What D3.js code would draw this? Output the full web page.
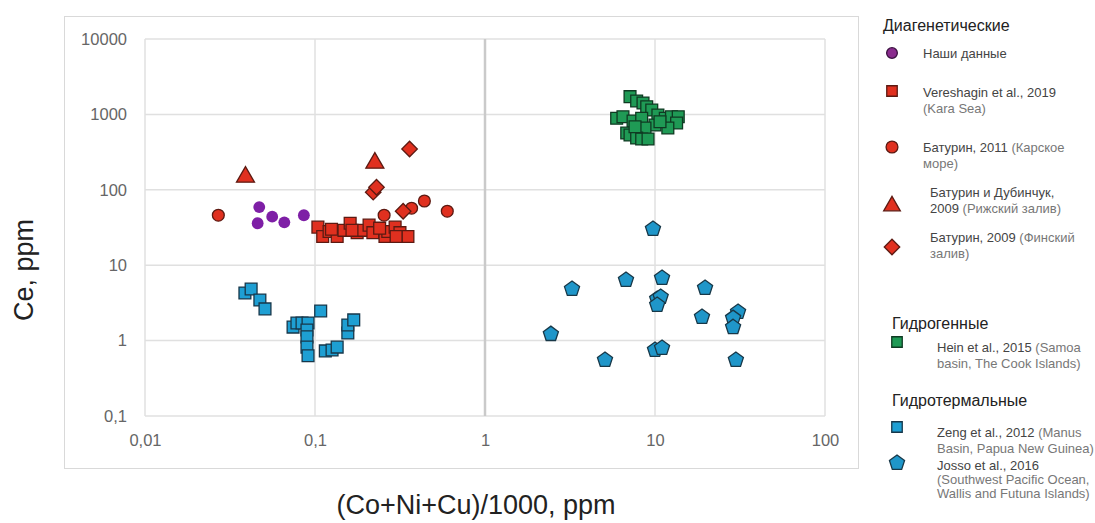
<!DOCTYPE html>
<html>
<head>
<meta charset="utf-8">
<script src="https://cdn.jsdelivr.net/npm/d3@7"></script>
<style>
  body { margin: 0; background: #fff; }
  svg { font-family: "Liberation Sans", Arial, sans-serif; }
</style>
</head>
<body>
<svg width="1095" height="523"></svg>
<script>
// tick labels
var xTicks = [0.01, 0.1, 1, 10, 100];
var yTicks = [0.1, 1, 10, 100, 1000, 10000];

// series, [ (Co+Ni+Cu)/1000, Ce ]
var nashiDannye = [[0.047, 59], [0.056, 44], [0.046, 36], [0.066, 37], [0.086, 46]];
var vereshagin2019 = [[0.104, 32], [0.111, 24], [0.121, 28], [0.135, 24], [0.148, 29], [0.161, 36],
  [0.177, 27], [0.189, 29], [0.208, 34], [0.219, 27], [0.258, 24], [0.268, 28], [0.296, 32],
  [0.316, 27], [0.352, 24], [0.125, 30], [0.165, 29], [0.24, 31], [0.30, 24]];
var baturin2011 = [[0.027, 46], [0.255, 46], [0.37, 57], [0.44, 71], [0.6, 52]];
var baturinDubinchuk2009 = [[0.039, 148], [0.225, 227]];
var baturin2009 = [[0.36, 348], [0.22, 93], [0.23, 108], [0.33, 52]];
var hein2015 = [[7.13, 1718], [7.8, 1506], [8.5, 1417], [8.94, 1265], [9.57, 1143], [5.95, 888],
  [6.48, 932], [7.43, 817], [8.35, 888], [10.4, 982], [11.5, 888], [12.5, 932], [13.7, 932],
  [13.4, 769], [11.9, 661], [10, 723], [8.73, 661], [6.82, 566], [7.13, 533], [7.8, 486],
  [8.35, 472], [9.1, 472], [7.63, 687], [10.7, 800]];
var zeng2012 = [[0.0387, 4.28], [0.0421, 4.83], [0.0474, 3.45], [0.0508, 2.63], [0.108, 2.47],
  [0.0743, 1.51], [0.0783, 1.71], [0.0839, 1.71], [0.091, 1.71], [0.0897, 1.38], [0.0897, 1.12],
  [0.0897, 0.82], [0.091, 0.63], [0.115, 0.73], [0.126, 0.75], [0.135, 0.82], [0.156, 1.26],
  [0.156, 1.61], [0.169, 1.88]];
var josso2016 = [[9.73, 30.2], [3.25, 4.83], [6.75, 6.36], [11.0, 6.77], [19.7, 4.99], [10.3, 3.56],
  [10.8, 3.79], [10.3, 2.97], [18.9, 2.06], [30.8, 2.4], [28.8, 1.99], [28.8, 1.51], [2.44, 1.22],
  [5.08, 0.553], [10, 0.75], [11.0, 0.8], [29.9, 0.553]];

var svg = d3.select("svg");

var x = d3.scaleLog().domain([0.01, 100]).range([145, 825]);
var y = d3.scaleLog().domain([0.1, 10000]).range([416, 39]);

function fmt(d) { return String(d).replace(".", ","); }

// frame around the chart
svg.append("rect")
    .attr("x", 64.5).attr("y", 16.5)
    .attr("width", 794).attr("height", 452)
    .attr("fill", "#fff")
    .attr("stroke", "#d9d9d9");

// grid
var grid = svg.append("g").attr("class", "grid");
grid.selectAll("line.h")
  .data(yTicks)
  .enter().append("line")
    .attr("x1", x(0.01)).attr("x2", x(100))
    .attr("y1", function(d) { return y(d); })
    .attr("y2", function(d) { return y(d); })
    .attr("stroke", "#e0e0e0").attr("stroke-width", 1.5);
grid.selectAll("line.v")
  .data(xTicks)
  .enter().append("line")
    .attr("y1", y(0.1)).attr("y2", y(10000))
    .attr("x1", function(d) { return x(d); })
    .attr("x2", function(d) { return x(d); })
    .attr("stroke", function(d) { return d == 1 ? "#cacaca" : "#e0e0e0"; })
    .attr("stroke-width", function(d) { return d == 1 ? 2.5 : 1.5; });

// axes
svg.append("g")
    .attr("transform", "translate(0," + y(0.1) + ")")
    .call(d3.axisBottom(x).tickValues(xTicks).tickFormat(fmt).tickSize(0).tickPadding(18));
svg.append("g")
    .attr("transform", "translate(" + x(0.01) + ",0)")
    .call(d3.axisLeft(y).tickValues(yTicks).tickFormat(fmt).tickSize(0).tickPadding(18));
svg.selectAll(".domain").remove();
svg.selectAll(".tick text")
    .attr("fill", "#666")
    .style("font-size", "16.5px")
    .style("font-family", "'Liberation Sans', Arial, sans-serif");

// axis titles
svg.append("text")
    .attr("transform", "translate(33,270) rotate(-90)")
    .attr("text-anchor", "middle")
    .attr("fill", "#222")
    .style("font-size", "27px")
    .text("Ce, ppm");
svg.append("text")
    .attr("x", 476).attr("y", 514)
    .attr("text-anchor", "middle")
    .attr("fill", "#222")
    .style("font-size", "27px")
    .text("(Co+Ni+Cu)/1000, ppm");

// pentagon symbol
var pentagon = {
  draw: function(context, size) {
    var r = Math.sqrt(size / 2.378);
    for (var i = 0; i < 5; i++) {
      var a = -Math.PI / 2 + i * 2 * Math.PI / 5;
      if (i == 0) context.moveTo(r * Math.cos(a), r * Math.sin(a));
      else context.lineTo(r * Math.cos(a), r * Math.sin(a));
    }
    context.closePath();
  }
};

var series = [
  { data: zeng2012, type: d3.symbolSquare, size: 140, fill: "#1e9fd3", stroke: "#17374a" },
  { data: josso2016, type: pentagon, size: 150, fill: "#1f96c9", stroke: "#183848" },
  { data: hein2015, type: d3.symbolSquare, size: 140, fill: "#1f9a55", stroke: "#0f3a22" },
  { data: nashiDannye, type: d3.symbolCircle, size: 110, fill: "#7e1fa6", stroke: "none" },
  { data: baturin2011, type: d3.symbolCircle, size: 110, fill: "#e0301f", stroke: "#5c1a12" },
  { data: vereshagin2019, type: d3.symbolSquare, size: 140, fill: "#e0301f", stroke: "#5c1a12" },
  { data: baturinDubinchuk2009, type: d3.symbolTriangle, size: 140, fill: "#e0301f", stroke: "#5c1a12" },
  { data: baturin2009, type: d3.symbolSquare, size: 120, fill: "#e0301f", stroke: "#5c1a12", rot: 45 }
];

series.forEach(function(s) {
  svg.append("g")
    .selectAll("path")
    .data(s.data)
    .enter().append("path")
      .attr("transform", function(d) {
        return "translate(" + x(d[0]) + "," + y(d[1]) + ")" + (s.rot ? " rotate(" + s.rot + ")" : "");
      })
      .attr("d", d3.symbol().type(s.type).size(s.size))
      .attr("fill", s.fill)
      .attr("stroke", s.stroke)
      .attr("stroke-width", 1.3);
});

// legend
var legendHeads = [
  { text: "Диагенетические", x: 883, y: 31 },
  { text: "Гидрогенные", x: 892, y: 329 },
  { text: "Гидротермальные", x: 892, y: 406 }
];
svg.append("g").selectAll("text")
  .data(legendHeads)
  .enter().append("text")
    .attr("x", function(d) { return d.x; })
    .attr("y", function(d) { return d.y; })
    .attr("fill", "#222")
    .style("font-size", "16px")
    .text(function(d) { return d.text; });

var legendItems = [
  { type: d3.symbolCircle, size: 90, fill: "#8a2b8e", stroke: "#3a1040", mx: 892, my: 53, tx: 923,
    lines: [["Наши данные", ""]], ty: 58 },
  { type: d3.symbolSquare, size: 110, fill: "#e0301f", stroke: "#5c1a12", mx: 892, my: 91, tx: 923,
    lines: [["Vereshagin et al., 2019", ""], ["", "(Kara Sea)"]], ty: 97 },
  { type: d3.symbolCircle, size: 110, fill: "#e0301f", stroke: "#5c1a12", mx: 892, my: 147, tx: 923,
    lines: [["Батурин, 2011 ", "(Карское"], ["", "море)"]], ty: 152 },
  { type: d3.symbolTriangle, size: 120, fill: "#e0301f", stroke: "#5c1a12", mx: 892, my: 206, tx: 930,
    lines: [["Батурин и Дубинчук,", ""], ["2009 ", "(Рижский залив)"]], ty: 197 },
  { type: d3.symbolSquare, size: 120, fill: "#e0301f", stroke: "#5c1a12", mx: 892, my: 247, tx: 930,
    lines: [["Батурин, 2009 ", "(Финский"], ["", "залив)"]], ty: 242, rot: 45 },
  { type: d3.symbolSquare, size: 110, fill: "#1f9a55", stroke: "#0f3a22", mx: 897, my: 342, tx: 937,
    lines: [["Hein et al., 2015 ", "(Samoa"], ["", "basin, The Cook Islands)"]], ty: 352 },
  { type: d3.symbolSquare, size: 110, fill: "#1e9fd3", stroke: "#17374a", mx: 897, my: 427, tx: 937,
    lines: [["Zeng et al., 2012 ", "(Manus"], ["", "Basin, Papua New Guinea)"]], ty: 437 },
  { type: pentagon, size: 150, fill: "#1f96c9", stroke: "#183848", mx: 897, my: 463, tx: 937,
    lines: [["Josso et al., 2016", ""], ["", "(Southwest Pacific Ocean,"], ["", "Wallis and Futuna Islands)"]], ty: 470 }
];

var legend = svg.append("g").attr("class", "legend");
legendItems.forEach(function(it) {
  legend.append("path")
    .attr("transform", "translate(" + it.mx + "," + it.my + ")" + (it.rot ? " rotate(" + it.rot + ")" : ""))
    .attr("d", d3.symbol().type(it.type).size(it.size))
    .attr("fill", it.fill)
    .attr("stroke", it.stroke)
    .attr("stroke-width", 1.3);
  var t = legend.append("text")
    .attr("x", it.tx).attr("y", it.ty)
    .style("font-size", "13px");
  it.lines.forEach(function(l, i) {
    var line = t.append("tspan")
      .attr("x", it.tx)
      .attr("dy", i == 0 ? 0 : (it.lines.length > 2 ? 14 : 16));
    if (l[0]) line.append("tspan").attr("fill", "#444").text(l[0]);
    if (l[1]) line.append("tspan").attr("fill", "#777").text(l[1]);
  });
});
</script>
</body>
</html>
